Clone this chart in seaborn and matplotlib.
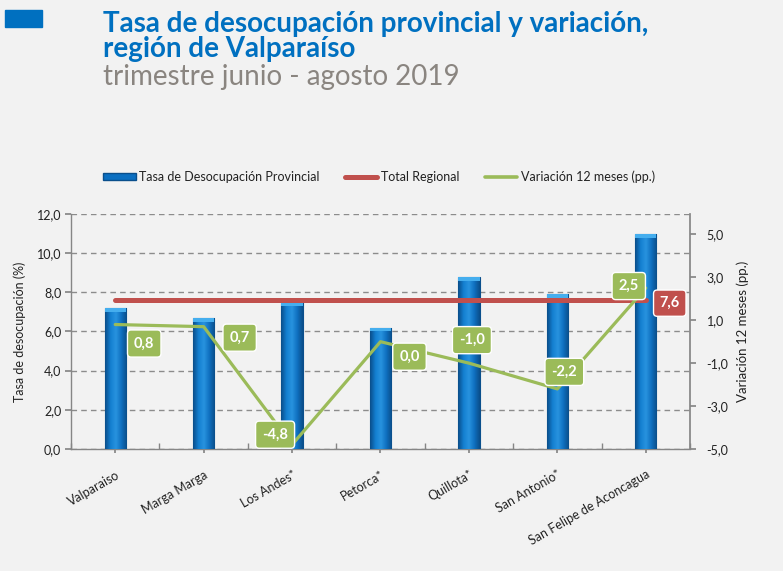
import numpy as np
import matplotlib
matplotlib.use("Agg")
import matplotlib.pyplot as plt
import seaborn as sns
from matplotlib.patches import Patch, Rectangle
from matplotlib.lines import Line2D
from matplotlib.colors import LinearSegmentedColormap
from matplotlib.ticker import FuncFormatter, FixedLocator

# Datos
provincias = ["Valparaiso", "Marga Marga", "Los Andes*", "Petorca*", "Quillota*",
              "San Antonio*", "San Felipe de Aconcagua"]
tasa = [7.2, 6.7, 7.5, 6.2, 8.8, 7.9, 11.0]
variacion = [0.8, 0.7, -4.8, 0.0, -1.0, -2.2, 2.5]
total_regional = 7.6

# offsets de las etiquetas (pixeles)
offsets = [(29, -19), (36, -11), (-17, 10), (29, -15), (3, 23), (7, 17), (-17, 2)]

sns.set_theme(style="white")
plt.rcParams["font.family"] = ["Lato", "DejaVu Sans"]

bg = "#F2F2F2"
azul = "#0070C0"
rojo = "#C0504D"
verde = "#9BBB59"
gris = "#8C8C8C"
fmt = FuncFormatter(lambda v, p: f"{v:.1f}".replace(".", ","))

fig = plt.figure(figsize=(7.83, 5.71), dpi=100, facecolor=bg)
ax = fig.add_axes([0.0907, 0.2137, 0.7905, 0.4115])
ax.set_facecolor(bg)

# Barras
sns.barplot(x=provincias, y=tasa, ax=ax, color="#0B6FC1", width=0.24,
            edgecolor="#0A4F8C", linewidth=0.8, zorder=3)

# gradiente sobre las barras
cmap = LinearSegmentedColormap.from_list("barra", ["#0A4E8A", "#137FD0", "#2893DF", "#0F70C0", "#0A4E8A"])
grad = np.linspace(0, 1, 64).reshape(1, -1)
for p in list(ax.patches):
    x0, w, h = p.get_x(), p.get_width(), p.get_height()
    im = ax.imshow(grad, cmap=cmap, aspect="auto", extent=[x0, x0 + w, 0, h], zorder=3.1)
    im.set_clip_path(p)
    ax.add_patch(Rectangle((x0, h - 0.2), w, 0.2, facecolor="#45AEEE", edgecolor="none", zorder=3.2))

# Total regional
ax.plot([0, len(provincias) - 1], [total_regional, total_regional], color=rojo, lw=3.6,
        solid_capstyle="round", zorder=4)
ax.annotate(f"{total_regional:.1f}".replace(".", ","), xy=(len(provincias) - 1, total_regional),
            xytext=(24, -3), textcoords="offset pixels", ha="center", va="center",
            color="white", fontsize=10.5, fontweight="bold", zorder=6,
            bbox=dict(boxstyle="round,pad=0.42,rounding_size=0.25", fc=rojo, ec="white", lw=1))

ax.set_xlim(-0.5, len(provincias) - 0.5)
ax.set_ylim(0, 12)
ax.set_yticks(np.arange(0, 12.1, 2))
ax.yaxis.set_major_formatter(fmt)
ax.yaxis.grid(True, ls=(0, (4, 3)), color=gris, lw=1)
ax.set_axisbelow(True)
for s in ["top", "right"]:
    ax.spines[s].set_visible(False)
for s in ["left", "bottom"]:
    ax.spines[s].set_color("#868686")
    ax.spines[s].set_linewidth(1)
ax.tick_params(axis="y", left=True, length=4, color="#868686", labelsize=9, pad=3, labelcolor="#222222")
ax.set_xticks(range(len(provincias)))
ax.tick_params(axis="x", which="major", bottom=True, length=3, color="#868686", pad=11)
ax.xaxis.set_minor_locator(FixedLocator(np.arange(-0.5, len(provincias), 1)))
ax.tick_params(axis="x", which="minor", bottom=True, direction="in", length=4, color="#868686")
ax.set_xticklabels(provincias, rotation=30, ha="right", rotation_mode="anchor",
                   fontsize=9, color="#222222")
ax.set_xlabel("")
ax.set_ylabel("Tasa de desocupación (%)", fontsize=9, color="#222222", labelpad=8)

# Variación 12 meses
ax2 = ax.twinx()
sns.lineplot(x=np.arange(len(variacion)), y=variacion, ax=ax2, color=verde, lw=2.3, zorder=5)
for i, v in enumerate(variacion):
    ax2.annotate(f"{v:.1f}".replace(".", ","), xy=(i, v), xytext=offsets[i],
                 textcoords="offset pixels", ha="center", va="center",
                 color="white", fontsize=10.5, fontweight="bold", zorder=6,
                 bbox=dict(boxstyle="round,pad=0.45,rounding_size=0.25", fc=verde, ec="white", lw=1))
ax2.set_ylim(-5, 5.95)
ax2.set_yticks(np.arange(-5, 5.1, 2))
ax2.yaxis.set_major_formatter(fmt)
for s in ["top", "left", "bottom"]:
    ax2.spines[s].set_visible(False)
ax2.spines["right"].set_color("#868686")
ax2.tick_params(axis="y", right=True, length=4, color="#868686", labelsize=9, pad=8, labelcolor="#222222")
ax2.set_ylabel("Variación 12 meses (pp.)", fontsize=9.5, color="#222222", labelpad=6)
ax2.grid(False)

# Leyenda
handles = [Patch(facecolor="#0B6FC1", edgecolor="#0A4F8C"),
           Line2D([0], [0], color=rojo, lw=3.6),
           Line2D([0], [0], color=verde, lw=2.6)]
labels = ["Tasa de Desocupación Provincial", "Total Regional", "Variación 12 meses (pp.)"]
fig.legend(handles, labels, loc="center", bbox_to_anchor=(0.484, 1 - 177 / 571), ncol=3,
           frameon=False, fontsize=9, handlelength=2.6, handleheight=0.5,
           columnspacing=2.0, handletextpad=0.3, labelcolor="#222222")

# Títulos
fig.patches.append(Rectangle((5 / 783, 1 - 27 / 571), 37 / 783, 17 / 571,
                             transform=fig.transFigure, color=azul))
fig.text(103 / 783, 1 - 32 / 571, "Tasa de desocupación provincial y variación,",
         fontsize=20, fontweight="bold", color=azul, va="baseline")
fig.text(103 / 783, 1 - 57 / 571, "región de Valparaíso",
         fontsize=20, fontweight="bold", color=azul, va="baseline")
fig.text(103 / 783, 1 - 85 / 571, "trimestre junio - agosto 2019",
         fontsize=20, color="#8A8580", va="baseline")

fig.savefig("out.png", dpi=100, facecolor=bg)
